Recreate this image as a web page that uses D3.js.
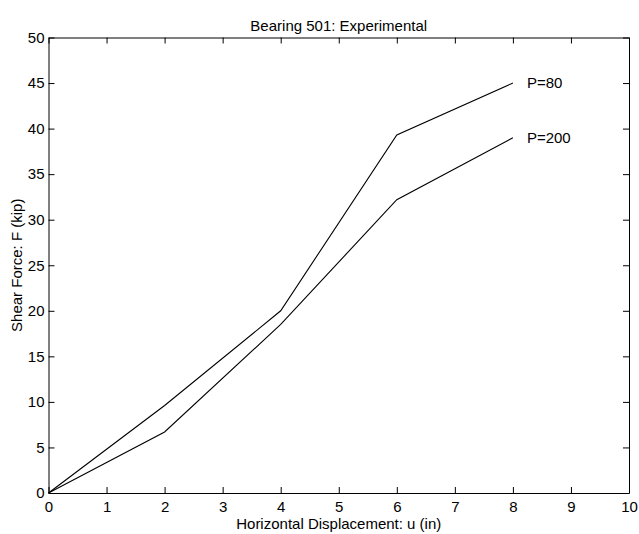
<!DOCTYPE html>
<html>
<head>
<meta charset="utf-8">
<script src="https://cdn.jsdelivr.net/npm/d3@7"></script>
<style>
  body { margin: 0; background: #fff; }
  text { font-family: "Liberation Sans", Arial, sans-serif; fill: #000; }
</style>
</head>
<body>
<svg id="chart" width="639" height="534"></svg>
<script>
const svg = d3.select('#chart')

// data
const displacement = [0, 2, 4, 6, 8]
const p80 = [0, 9.6, 20, 39.3, 45]
const p200 = [0, 6.7, 18.5, 32.2, 39]
const seriesNames = ['P=80', 'P=200']
const xTicks = [0, 1, 2, 3, 4, 5, 6, 7, 8, 9, 10]
const yTicks = [0, 5, 10, 15, 20, 25, 30, 35, 40, 45, 50]

const plotLeft = 48.5, plotRight = 629, plotTop = 37.5, plotBottom = 493
const fontSize = '15px'
const tickLen = 6

const x = d3.scaleLinear().domain([0, 10]).range([plotLeft, plotRight])
const y = d3.scaleLinear().domain([0, 50]).range([plotBottom, plotTop])

// axes, matlab style: ticks pointing in, on all four sides
const xAxisB = d3.axisBottom(x).tickValues(xTicks).tickSizeInner(-tickLen).tickSizeOuter(0).tickPadding(8)
const xAxisT = d3.axisTop(x).tickValues(xTicks).tickSizeInner(-tickLen).tickSizeOuter(0).tickFormat('')
const yAxisL = d3.axisLeft(y).tickValues(yTicks).tickSizeInner(-tickLen).tickSizeOuter(0).tickPadding(4)
const yAxisR = d3.axisRight(y).tickValues(yTicks).tickSizeInner(-tickLen).tickSizeOuter(0).tickFormat('')

svg.append('g').attr('transform', `translate(0,${plotBottom})`).call(xAxisB)
svg.append('g').attr('transform', `translate(0,${plotTop})`).call(xAxisT)
svg.append('g').attr('transform', `translate(${plotLeft},0)`).call(yAxisL)
svg.append('g').attr('transform', `translate(${plotRight},0)`).call(yAxisR)

svg.selectAll('.tick text')
  .style('font-size', fontSize)
  .style('font-family', '"Liberation Sans", Arial, sans-serif')
svg.selectAll('.domain, .tick line')
  .attr('stroke', '#000')
  .attr('stroke-width', 1)

const line = d3.line()
  .x((d, i) => x(displacement[i]))
  .y(d => y(d))

const series = [p80, p200]
series.forEach((vals, k) => {
  svg.append('path')
    .datum(vals)
    .attr('fill', 'none')
    .attr('stroke', '#000')
    .attr('stroke-width', 1.1)
    .attr('d', line)

  svg.append('text')
    .attr('x', x(displacement[displacement.length - 1]) + 14)
    .attr('y', y(vals[vals.length - 1]))
    .attr('dy', '0.35em')
    .style('font-size', fontSize)
    .text(seriesNames[k])
})

// title + labels
svg.append('text')
  .attr('x', (plotLeft + plotRight) / 2)
  .attr('y', 31)
  .attr('text-anchor', 'middle')
  .style('font-size', fontSize)
  .text('Bearing 501: Experimental')

svg.append('text')
  .attr('x', (plotLeft + plotRight) / 2)
  .attr('y', 529)
  .attr('text-anchor', 'middle')
  .style('font-size', fontSize)
  .text('Horizontal Displacement: u (in)')

svg.append('text')
  .attr('transform', `translate(22,${(plotTop + plotBottom) / 2}) rotate(-90)`)
  .attr('text-anchor', 'middle')
  .style('font-size', fontSize)
  .text('Shear Force: F (kip)')
</script>
</body>
</html>
